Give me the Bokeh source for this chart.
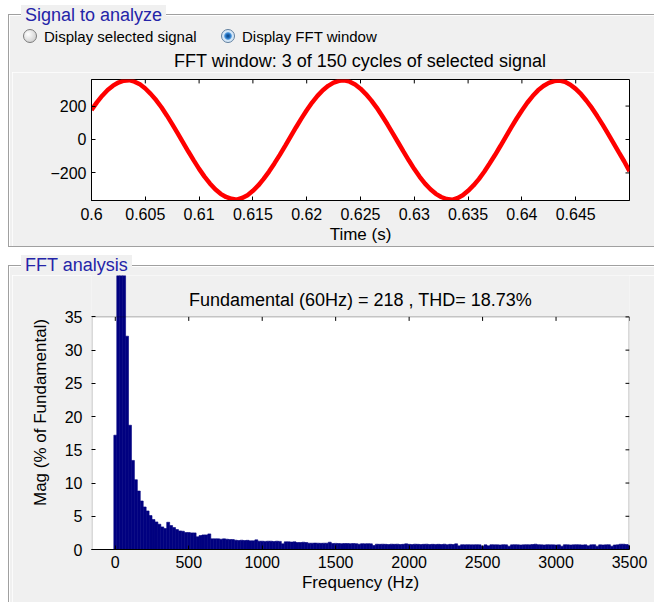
import numpy as np
from bokeh.plotting import figure
from bokeh.models import FixedTicker, BoxAnnotation, Label, Range1d, NumeralTickFormatter, BasicTickFormatter, Div
from bokeh.layouts import column, row
from bokeh.embed import file_html
from bokeh.resources import INLINE

# ---------------- data ----------------
time_s = [round(0.6 + 0.0005 * k, 4) for k in range(101)]
signal_v = [176, 222, 262, 296, 322, 341, 352, 355, 346, 330,
            305, 273, 236, 193, 144, 92, 38, -17, -72, -125,
            -176, -222, -263, -298, -325, -344, -355, -360, -350, -333,
            -307, -275, -236, -192, -143, -92, -38, 17, 72, 125,
            175, 221, 261, 295, 321, 340, 351, 354, 346, 329,
            304, 272, 234, 191, 142, 91, 37, -18, -73, -126,
            -177, -223, -264, -298, -325, -344, -356, -361, -351, -334,
            -307, -275, -237, -193, -144, -93, -39, 16, 71, 124,
            174, 220, 260, 294, 320, 339, 350, 353, 345, 328,
            303, 271, 232, 189, 140, 89, 35, -20, -76, -130,
            -190]
time_ticks = [0.6, 0.605, 0.61, 0.615, 0.62, 0.625, 0.63, 0.635, 0.64, 0.645]
time_tick_labels = ["0.6", "0.605", "0.61", "0.615", "0.62", "0.625", "0.63", "0.635", "0.64", "0.645"]
signal_ticks = [-200, 0, 200]

freq_hz = [20 * k for k in range(176)]
mag_pct = [17.2, 48.0, 118.0, 100.0, 32.1, 18.7, 13.4, 10.5, 8.8, 7.3,
           6.4, 5.8, 5.1, 4.5, 4.15, 3.8, 3.4, 3.15, 4.1, 3.6,
           3.3, 3.0, 2.8, 2.75, 2.55, 2.55, 2.5, 2.5, 1.9, 2.1,
           2.2, 2.2, 2.35, 1.6, 1.6, 1.6, 1.55, 1.6, 1.55, 1.5,
           1.5, 1.4, 1.35, 1.4, 1.35, 1.38, 1.3, 1.3, 1.45, 1.25,
           1.25, 1.22, 1.25, 1.25, 1.2, 1.25, 1.22, 0.85, 1.15, 1.15,
           1.12, 1.15, 1.05, 1.05, 1.1, 1.05, 0.95, 0.95, 0.97, 0.95,
           0.93, 0.95, 0.95, 1.1, 0.9, 0.92, 0.9, 0.88, 0.9, 0.9,
           0.88, 0.9, 0.88, 0.8, 0.88, 0.85, 0.88, 0.85, 0.6, 0.8,
           0.78, 0.8, 0.78, 0.75, 0.8, 0.78, 0.8, 0.75, 0.78, 0.85,
           0.78, 0.75, 0.8, 0.78, 0.75, 0.78, 0.8, 0.75, 0.78, 0.76,
           0.78, 0.75, 0.8, 0.72, 0.78, 0.75, 0.85, 0.55, 0.72, 0.7,
           0.72, 0.7, 0.7, 0.72, 0.7, 0.5, 0.7, 0.55, 0.72, 0.7,
           0.7, 0.68, 0.72, 0.7, 0.5, 0.7, 0.72, 0.7, 0.68, 0.7,
           0.72, 0.7, 0.75, 0.8, 0.72, 0.7, 0.68, 0.72, 0.7, 0.7,
           0.68, 0.7, 0.5, 0.72, 0.7, 0.68, 0.7, 0.72, 0.7, 0.68,
           0.7, 0.55, 0.7, 0.72, 0.5, 0.7, 0.68, 0.7, 0.72, 0.5,
           0.68, 0.7, 0.8, 0.8, 0.75, 0.65]
freq_ticks = [0, 500, 1000, 1500, 2000, 2500, 3000, 3500]
mag_ticks = [0, 5, 10, 15, 20, 25, 30, 35]

PANEL1 = "Signal to analyze"
PANEL2 = "FFT analysis"
RADIO = ["Display selected signal", "Display FFT window"]
TITLE1 = "FFT window: 3 of 150 cycles of selected signal"
TITLE2 = "Fundamental (60Hz) = 218 , THD= 18.73%"
XLABEL1 = "Time (s)"
XLABEL2 = "Frequency (Hz)"
YLABEL2 = "Mag (% of Fundamental)"

# ---------------- style / layout (page pixel coordinates) ----------------
FONT = "Liberation Sans"
GRAY = "#f0f0f0"
EDGE = "#a0a0a0"
BLUE_TXT = "#2424a8"
TOTAL_W, TOTAL_H = 654, 602
STRIP_W = 12
MAIN_W = TOTAL_W - STRIP_W
HEAD_H, P1_H, SEP_H = 72, 174, 29
P2_H = TOTAL_H - HEAD_H - P1_H - SEP_H
P1_TOP = HEAD_H
SEP_TOP = HEAD_H + P1_H
P2_TOP = SEP_TOP + SEP_H
FRAME_L, FRAME_R = 91, 629
P1_FT, P1_FB = 79, 202
P2_FT, P2_FB = 275, 549
X0, X1 = 0.6, 0.65
Y0, Y1 = -365, 359
FX0, FX1 = -162, 3500
FY0 = 0
FY1 = (P2_FB - P2_FT) / (232.6 / 35.0)
BOX_TOP = 35
TICK_PX = 4


def b_x(px):
    return FX0 + (px - FRAME_L) * (FX1 - FX0) / (FRAME_R - FRAME_L)


def b_y(py):
    return FY1 - (py - P2_FT) * (FY1 - FY0) / (P2_FB - P2_FT)


def style_axis(ax):
    ax.major_tick_in = TICK_PX
    ax.major_tick_out = 0
    ax.minor_tick_in = 0
    ax.minor_tick_out = 0
    ax.major_tick_line_color = "black"
    ax.axis_line_color = "black"
    ax.major_label_text_font = FONT
    ax.major_label_text_font_size = "16px"
    ax.major_label_text_color = "black"
    ax.axis_label_text_font = FONT
    ax.axis_label_text_font_size = "17px"
    ax.axis_label_text_font_style = "normal"
    ax.axis_label_text_color = "black"


def box(l, t, w, h, color, extra=""):
    return (f'<div style="position:absolute;left:{l}px;top:{t}px;width:{w}px;height:{h}px;'
            f'background:{color};{extra}"></div>')


def text_at(l, t, txt, size, color, extra=""):
    return (f'<div style="position:absolute;left:{l}px;top:{t}px;white-space:nowrap;'
            f"font-family:'{FONT}';font-size:{size}px;line-height:{size + 3}px;color:{color};{extra}\">"
            f'{txt}</div>')


def panel_div(w, h, inner):
    html = (f'<div style="position:relative;width:{w}px;height:{h}px;overflow:hidden;'
            f'background:{GRAY};margin:0;padding:0">{inner}</div>')
    return Div(text=html, width=w, height=h, margin=0)


# ---------------- left strip: panel left borders ----------------
strip_html = "".join([
    box(0, 0, 8, TOTAL_H, "#ffffff"),
    box(0, 0, STRIP_W, 14, "#ffffff"),
    box(0, 247, STRIP_W, 18, "#ffffff"),
    box(8, 14, 1, 233, EDGE), box(8, 14, 4, 1, EDGE), box(8, 246, 4, 1, EDGE),
    box(9, 15, 1, 231, "#ffffff"), box(9, 15, 3, 1, "#ffffff"),
    box(8, 265, 1, TOTAL_H - 265, EDGE), box(8, 265, 4, 1, EDGE),
    box(9, 266, 1, TOTAL_H - 266, "#ffffff"), box(9, 266, 3, 1, "#ffffff"),
])
strip = panel_div(STRIP_W, TOTAL_H, strip_html)

# ---------------- header of the top panel ----------------
ox = STRIP_W
radio_off = ("box-sizing:border-box;border-radius:50%;border:1px solid #7c7c7c;"
             "background:radial-gradient(circle at 35% 35%, #ffffff 0%, #e4e4e4 45%, #c4c4c4 100%)")
radio_on = ("box-sizing:border-box;border-radius:50%;border:1px solid #5f7f9f;"
            "background:radial-gradient(circle, #0b3f7a 0px, #1f6fc0 2.2px, #5aa0e0 3.4px, "
            "#cfe4f7 4.2px, #e8f1fa 100%)")
head_html = "".join([
    box(0, 0, MAIN_W, 14, "#ffffff"),
    box(0, 14, MAIN_W, 1, EDGE),
    box(0, 15, MAIN_W, 1, "#ffffff"),
    text_at(21 - ox, 5, PANEL1, 18, BLUE_TXT, f"padding:0 4px;background:{GRAY}"),
    box(23 - ox, 29, 14, 14, "transparent", radio_off),
    text_at(44 - ox, 28, RADIO[0], 15, "#000000"),
    box(221 - ox, 29, 14, 14, "transparent", radio_on),
    text_at(242 - ox, 28, RADIO[1], 15, "#000000"),
    text_at(0, 51, TITLE1, 18, "#000000", f"width:{2 * (360 - ox)}px;text-align:center"),
])
head = panel_div(MAIN_W, HEAD_H, head_html)

# ---------------- top plot ----------------
p1 = figure(width=MAIN_W, height=P1_H, x_range=Range1d(X0, X1), y_range=Range1d(Y0, Y1),
            output_backend="svg", toolbar_location=None, title=None,
            min_border_left=FRAME_L - STRIP_W, min_border_right=TOTAL_W - FRAME_R,
            min_border_top=P1_FT - P1_TOP, min_border_bottom=SEP_TOP - P1_FB,
            background_fill_color="white", border_fill_color=GRAY, outline_line_color="black")
p1.xgrid.visible = False
p1.ygrid.visible = False
p1.line(time_s, signal_v, line_color="#ff0000", line_width=4.5)
dy1 = TICK_PX * (Y1 - Y0) / (P1_FB - P1_FT)
dx1 = TICK_PX * (X1 - X0) / (FRAME_R - FRAME_L)
p1.segment(x0=time_ticks, y0=[Y1] * len(time_ticks), x1=time_ticks, y1=[Y1 - dy1] * len(time_ticks),
           line_color="black", line_width=1)
p1.segment(x0=[X1] * len(signal_ticks), y0=signal_ticks, x1=[X1 - dx1] * len(signal_ticks), y1=signal_ticks,
           line_color="black", line_width=1)

xa = p1.xaxis[0]
style_axis(xa)
xa.ticker = FixedTicker(ticks=time_ticks)
xa.formatter = NumeralTickFormatter(format="0.[000]")
xa.major_label_overrides = dict(zip(time_ticks, time_tick_labels))
xa.major_label_standoff = 7
xa.axis_label = XLABEL1
xa.axis_label_standoff = 2
ya = p1.yaxis[0]
style_axis(ya)
ya.ticker = FixedTicker(ticks=signal_ticks)
ya.major_label_standoff = 5

# ---------------- separator between the panels ----------------
sep_html = "".join([
    box(0, 0, MAIN_W, 1, EDGE),
    box(0, 1, MAIN_W, 18, "#ffffff"),
    box(0, 19, MAIN_W, 1, EDGE),
    box(0, 20, MAIN_W, 1, "#ffffff"),
    text_at(21 - ox, 9, PANEL2, 18, BLUE_TXT, f"padding:0 4px;background:{GRAY}"),
])
sep = panel_div(MAIN_W, SEP_H, sep_html)

# ---------------- bottom plot ----------------
p2 = figure(width=MAIN_W, height=P2_H, x_range=Range1d(FX0, FX1), y_range=Range1d(FY0, FY1),
            output_backend="svg", toolbar_location=None, title=None,
            min_border_left=FRAME_L - STRIP_W, min_border_right=TOTAL_W - FRAME_R,
            min_border_top=P2_FT - P2_TOP, min_border_bottom=TOTAL_H - P2_FB,
            background_fill_color=GRAY, border_fill_color=GRAY, outline_line_color=None)
p2.xgrid.visible = False
p2.ygrid.visible = False
p2.add_layout(BoxAnnotation(top=BOX_TOP, bottom=0, fill_color="white", fill_alpha=1,
                            line_color=None, level="underlay"))
p2.vbar(x=freq_hz, width=20, top=mag_pct, bottom=0, fill_color="#000080",
        line_color="#000080", line_width=0.6)
dy2 = TICK_PX * (FY1 - FY0) / (P2_FB - P2_FT)
dx2 = TICK_PX * (FX1 - FX0) / (FRAME_R - FRAME_L)
p2.segment(x0=freq_ticks, y0=[BOX_TOP] * len(freq_ticks), x1=freq_ticks,
           y1=[BOX_TOP - dy2] * len(freq_ticks), line_color="black", line_width=1)
p2.segment(x0=[FX1] * len(mag_ticks), y0=mag_ticks, x1=[FX1 - dx2] * len(mag_ticks), y1=mag_ticks,
           line_color="black", line_width=1)
half_x = 0.5 * (FX1 - FX0) / (FRAME_R - FRAME_L)
p2.add_layout(BoxAnnotation(top=BOX_TOP, bottom=0, left=FX0 + half_x, right=FX1 - half_x,
                            fill_alpha=0, line_color="black", line_width=1))

xb = p2.xaxis[0]
style_axis(xb)
xb.ticker = FixedTicker(ticks=freq_ticks)
xb.formatter = BasicTickFormatter(use_scientific=False)
xb.major_label_standoff = 6
xb.axis_label = XLABEL2
xb.axis_label_standoff = 2
yb = p2.yaxis[0]
style_axis(yb)
yb.ticker = FixedTicker(ticks=mag_ticks)
yb.axis_line_color = None
yb.major_label_standoff = 9
yb.axis_label = YLABEL2
yb.axis_label_standoff = 12

p2.add_layout(Label(x=b_x(360), y=b_y(299.5), text=TITLE2, text_font=FONT, text_font_size="18px",
                    text_color="black", text_baseline="middle", text_align="center"))

layout = row(strip, column(head, p1, sep, p2, spacing=0), spacing=0)
open("out.html", "w").write(file_html(layout, INLINE))
